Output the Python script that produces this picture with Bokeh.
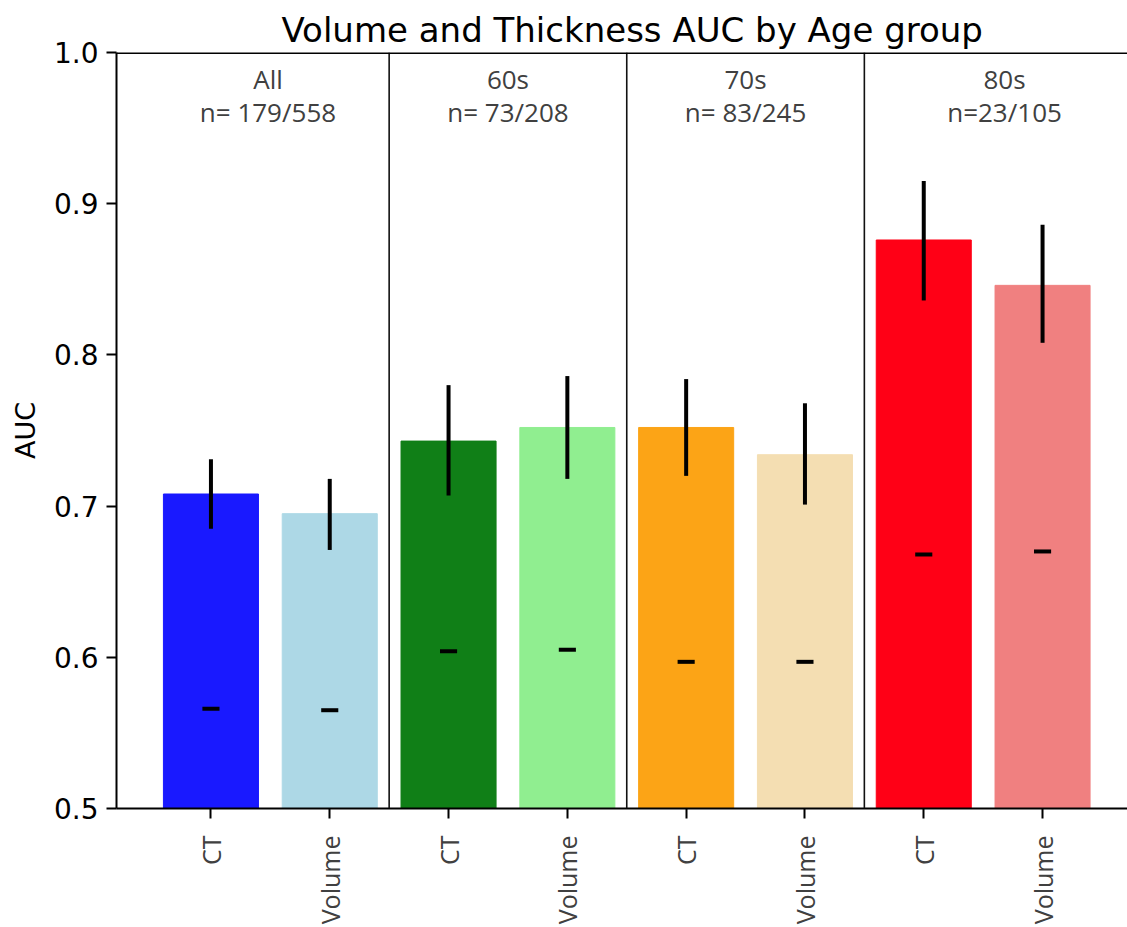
import math
from bokeh.plotting import figure
from bokeh.models import (ColumnDataSource, Range1d, FixedTicker, PrintfTickFormatter,
                          Span, LabelSet)
from bokeh.core.properties import value
from bokeh.embed import file_html
from bokeh.resources import INLINE

# ---- data ----
groups = ["All", "60s", "70s", "80s"]
group_n = ["n= 179/558", "n= 73/208", "n= 83/245", "n=23/105"]
bar_labels = ["CT", "Volume", "CT", "Volume", "CT", "Volume", "CT", "Volume"]
auc = [0.708, 0.695, 0.743, 0.752, 0.752, 0.734, 0.876, 0.846]
ci_low = [0.685, 0.671, 0.707, 0.718, 0.720, 0.701, 0.836, 0.808]
ci_high = [0.731, 0.718, 0.780, 0.786, 0.784, 0.768, 0.915, 0.886]
chance = [0.566, 0.565, 0.604, 0.605, 0.597, 0.597, 0.668, 0.670]
colors = ["#1919ff", "#add8e6", "#107f17", "#90ee90",
          "#fca416", "#f4deb2", "#ff0016", "#f08080"]

# ---- layout constants ----
group_label_x = [0.48, 2.5, 4.5, 6.68]
separators = [1.5, 3.5, 5.5]

xs = list(range(len(auc)))
src = ColumnDataSource(dict(x=xs, top=auc, lo=ci_low, hi=ci_high, ch=chance,
                            color=colors,
                            cl=[v - 0.072 for v in xs], cr=[v + 0.072 for v in xs]))

p = figure(width=1127, height=927, output_backend="svg", toolbar_location=None,
           x_range=Range1d(-0.795, 7.715), y_range=Range1d(0.5, 1.0),
           min_border_left=116, min_border_right=0, min_border_top=52,
           min_border_bottom=117,
           title="Volume and Thickness AUC by Age group")
p.outline_line_color = None
p.grid.visible = False
p.background_fill_color = "white"
p.border_fill_color = "white"

p.title.align = "left"
p.title.offset = 165
p.title.vertical_align = "top"
p.title.text_font = "DejaVu Sans"
p.title.text_font_size = "34px"
p.title.text_font_style = "normal"
p.title.text_color = "black"
p.title.standoff = 2

p.vbar(x="x", top="top", bottom=0, width=0.8, color="color", source=src)
p.segment(x0="x", y0="lo", x1="x", y1="hi", line_color="black", line_width=4, source=src)
p.segment(x0="cl", y0="ch", x1="cr", y1="ch", line_color="black", line_width=4, source=src)

for s in separators:
    p.add_layout(Span(location=s, dimension="height", line_color="#111111", line_width=1.6))
p.add_layout(Span(location=1.0, dimension="width", line_color="black", line_width=3))

# axes
p.yaxis.ticker = FixedTicker(ticks=[0.5, 0.6, 0.7, 0.8, 0.9, 1.0])
p.yaxis.formatter = PrintfTickFormatter(format="%.1f")
p.yaxis.axis_label = "AUC"
p.yaxis.axis_label_text_font = "DejaVu Sans"
p.yaxis.axis_label_text_font_size = "27px"
p.yaxis.axis_label_text_font_style = "normal"
p.yaxis.axis_label_text_color = "black"
p.yaxis.axis_label_standoff = 10
p.yaxis.major_label_text_font = "DejaVu Sans"
p.yaxis.major_label_text_font_size = "28px"
p.yaxis.major_label_text_color = "black"
p.yaxis.major_label_standoff = 8
p.yaxis.minor_tick_line_color = None

p.xaxis.ticker = FixedTicker(ticks=xs)
p.xaxis.major_label_overrides = {i: bar_labels[i] for i in xs}
p.xaxis.major_label_orientation = math.pi / 2
p.xaxis.major_label_text_font = "Open Sans"
p.xaxis.major_label_text_font_size = "25px"
p.xaxis.major_label_text_color = "#404040"
p.xaxis.major_label_standoff = 17
p.xaxis.minor_tick_line_color = None

for ax in (p.xaxis, p.yaxis):
    ax.axis_line_width = 2
    ax.axis_line_color = "black"
    ax.major_tick_line_width = 2
    ax.major_tick_line_color = "black"
    ax.major_tick_out = 10
    ax.major_tick_in = 0

# group labels
gsrc = ColumnDataSource(dict(x=group_label_x, y=[1.0] * 4, g=groups, n=group_n))
p.add_layout(LabelSet(x="x", y="y", text="g", source=gsrc, y_offset=-36.5,
                      text_align="center", text_baseline="alphabetic",
                      text_font=value("Open Sans"), text_font_size=value("26px"),
                      text_color="#404040"))
p.add_layout(LabelSet(x="x", y="y", text="n", source=gsrc, y_offset=-69.5,
                      text_align="center", text_baseline="alphabetic",
                      text_font=value("Open Sans"), text_font_size=value("26px"),
                      text_color="#404040"))

open("out.html", "w").write(file_html(p, INLINE))
